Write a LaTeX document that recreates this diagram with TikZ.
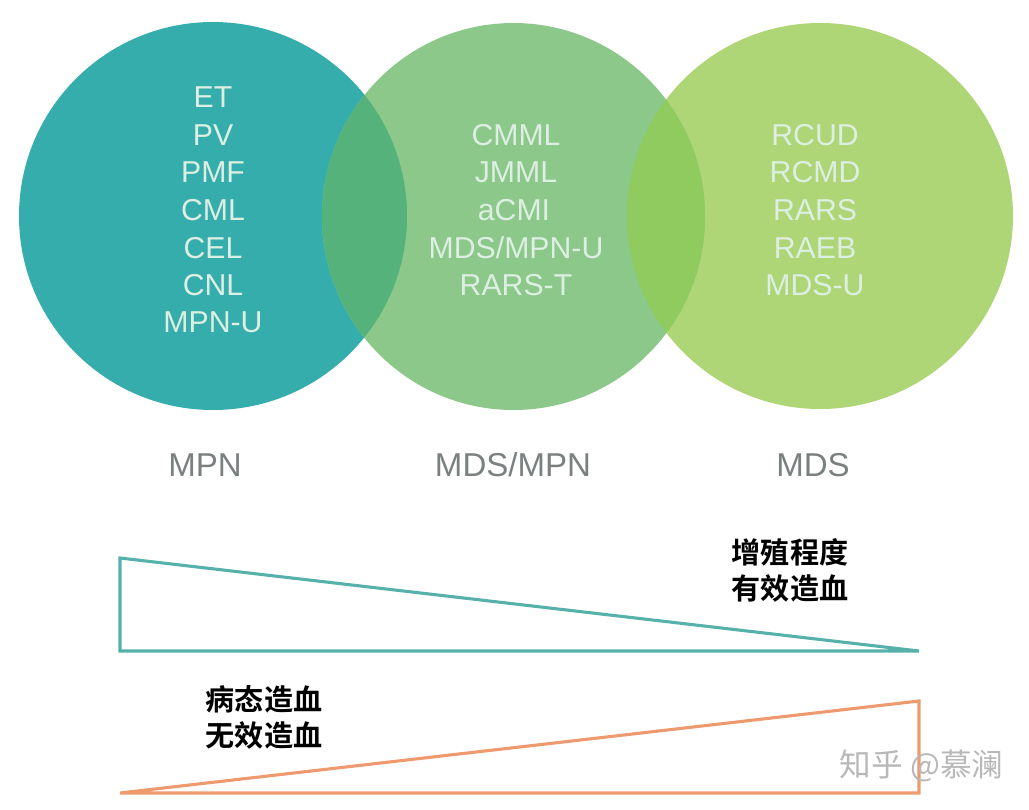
\documentclass[tikz,border=0pt]{standalone}
\usepackage{fontspec}
\setmainfont{Liberation Sans}
\newfontfamily\cjkfont{Noto Sans CJK SC}
\newfontfamily\cjkbold{Noto Sans CJK SC Bold}
\definecolor{mpnteal}{HTML}{36ADAD}
\definecolor{midgreen}{HTML}{8CC88A}
\definecolor{mdsgreen}{HTML}{AFD676}
\definecolor{overlapleft}{HTML}{55B27A}
\definecolor{overlapright}{HTML}{8FCB5F}
\definecolor{textpale}{HTML}{DDEEE2}
\definecolor{labelgray}{HTML}{7A7F7F}
\definecolor{triteal}{HTML}{55B1AA}
\definecolor{triorange}{HTML}{EE9A6E}
\tikzset{
	subtype/.style={text=textpale, font=\fontsize{21.5}{24}\selectfont, inner sep=0pt},
	grouplabel/.style={text=labelgray, font=\fontsize{23.5}{26}\selectfont, inner sep=0pt},
	trendlabel/.style={text=black, font=\cjkbold\fontsize{20.7}{25.5}\selectfont, align=center, inner sep=0pt},
	watermark/.style={text=black!28, font=\cjkfont\fontsize{22.5}{24}\selectfont, inner sep=0pt},
}

\begin{document}
\begin{tikzpicture}[x=0.025cm, y=-0.025cm]
			%%%%% START %%%%%
			\useasboundingbox (0, 0) rectangle (1029, 809);
			
			\fill[mpnteal] (213, 216) circle (194);
			\fill[mdsgreen] (820, 216) circle (193);
			\fill[midgreen] (513.5, 216.5) ellipse (191.5 and 193.5);
			
			\begin{scope}
				\clip (213, 216) circle (194);
				\fill[overlapleft] (513.5, 216.5) ellipse (191.5 and 193.5);
			\end{scope}
			\begin{scope}
				\clip (820, 216) circle (193);
				\fill[overlapright] (513.5, 216.5) ellipse (191.5 and 193.5);
			\end{scope}
			
			\node[subtype] (et) at (213, 97) {ET};
			\node[subtype] (pv) at (213, 135) {PV};
			\node[subtype] (pmf) at (213, 172) {PMF};
			\node[subtype] (cml) at (213, 210) {CML};
			\node[subtype] (cel) at (213, 248) {CEL};
			\node[subtype] (cnl) at (213, 285) {CNL};
			\node[subtype] (mpnu) at (213, 322) {MPN-U};
			
			\node[subtype] (cmml) at (516, 135) {CMML};
			\node[subtype] (jmml) at (516, 172) {JMML};
			\node[subtype] (acmi) at (514, 210) {aCMI};
			\node[subtype] (mdsmpnu) at (516, 248) {MDS/MPN-U};
			\node[subtype] (rarst) at (516, 285) {RARS-T};
			
			\node[subtype] (rcud) at (815, 135) {RCUD};
			\node[subtype] (rcmd) at (815, 172) {RCMD};
			\node[subtype] (rars) at (815, 210) {RARS};
			\node[subtype] (raeb) at (815, 248) {RAEB};
			\node[subtype] (mdsu) at (815, 285) {MDS-U};
			
			\node[grouplabel] (mpn) at (205, 465) {MPN};
			\node[grouplabel] (mdsmpn) at (513, 465) {MDS/MPN};
			\node[grouplabel] (mds) at (813, 465) {MDS};
			
			\draw[line width=2.2pt, color=triteal, line join=miter] (120, 558) -- (120, 651) -- (919, 651) -- cycle;
			\draw[line width=2.2pt, color=triorange, line join=miter] (120, 793) -- (919, 793) -- (919, 701) -- cycle;
			
			\node[trendlabel] (upper) at (790, 570) {增殖程度\\有效造血};
			\node[trendlabel] (lower) at (264, 717) {病态造血\\无效造血};
			
			\node[watermark] (zhihu) at (921.5, 766) {知乎 @慕澜};
			%%%%% END %%%%%
		\end{tikzpicture}
\end{document}
